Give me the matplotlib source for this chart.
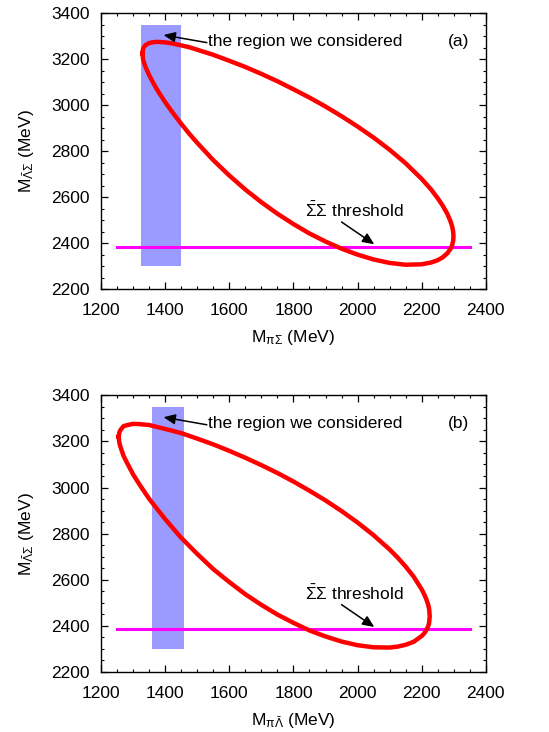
import numpy as np
import matplotlib.pyplot as plt
from matplotlib.patches import Rectangle
from matplotlib.ticker import MultipleLocator

plt.rcParams['font.family'] = ['Liberation Sans', 'DejaVu Sans']
plt.rcParams['mathtext.fontset'] = 'custom'
plt.rcParams['mathtext.rm'] = 'Liberation Sans'
plt.rcParams['mathtext.it'] = 'Liberation Sans'
plt.rcParams['mathtext.bf'] = 'Liberation Sans:bold'

# Dalitz boundary, panel (a): M(pi Sigma) vs M(Lambdabar Sigma), MeV
a_x = [1329, 1331, 1333, 1335, 1340, 1350, 1360, 1370, 1380, 1400, 1420, 1450,
       1475, 1500, 1550, 1600, 1650, 1700, 1750, 1800, 1850, 1900, 1950, 2000,
       2050, 2100, 2150, 2200, 2230, 2250, 2265, 2280, 2290, 2295, 2298, 2299,
       2298, 2295, 2290, 2280, 2265, 2250, 2230, 2200, 2150, 2100, 2050, 2000,
       1950, 1900, 1850, 1800, 1750, 1700, 1650, 1600, 1550, 1500, 1475, 1450,
       1420, 1400, 1380, 1370, 1360, 1350, 1340, 1335, 1333, 1331, 1329]
a_y = [3225, 3244, 3250, 3255, 3262, 3270, 3273, 3275, 3275, 3273, 3269, 3260,
       3252, 3241, 3219, 3193, 3166, 3136, 3104, 3069, 3033, 2994, 2952, 2907,
       2859, 2806, 2747, 2679, 2632, 2595, 2564, 2527, 2494, 2472, 2450, 2429,
       2410, 2392, 2376, 2356, 2338, 2326, 2316, 2308, 2306, 2314, 2329, 2350,
       2376, 2407, 2442, 2483, 2528, 2578, 2633, 2694, 2761, 2836, 2876, 2919,
       2974, 3013, 3056, 3079, 3104, 3131, 3162, 3181, 3190, 3201, 3225]

# panel (b): M(pi Lambdabar) vs M(Lambdabar Sigma), MeV
b_x = [1255, 1257, 1260, 1270, 1280, 1300, 1320, 1350, 1400, 1450, 1500, 1550,
       1600, 1650, 1700, 1750, 1800, 1850, 1900, 1950, 2000, 2050, 2100, 2125,
       2150, 2175, 2200, 2208, 2215, 2220, 2223, 2225,
       2223, 2220, 2215, 2208, 2200, 2175, 2150, 2125, 2100, 2050, 2000, 1950,
       1900, 1850, 1800, 1750, 1700, 1650, 1600, 1550, 1500, 1450, 1400, 1350,
       1320, 1300, 1280, 1270, 1260, 1257, 1255]
b_y = [3220, 3238, 3248, 3266, 3270, 3276, 3275, 3271, 3254, 3236, 3212, 3187,
       3159, 3129, 3097, 3063, 3026, 2986, 2944, 2898, 2848, 2793, 2731, 2696,
       2657, 2613, 2558, 2536, 2513, 2492, 2474, 2442,
       2412, 2398, 2383, 2368, 2356, 2331, 2318, 2310, 2306, 2307, 2316, 2332,
       2354, 2380, 2413, 2449, 2491, 2537, 2590, 2646, 2712, 2782, 2863, 2951,
       3013, 3057, 3110, 3138, 3179, 3196, 3220]

threshold = 2385          # 2 m_Sigma
thr_range = [1250, 2350]
band_a = [1325, 1450]     # region considered, panel (a)
band_b = [1360, 1460]     # region considered, panel (b)
band_y = [2300, 3350]

panels = [
    (a_x, a_y, band_a, r'M$_{\pi\Sigma}$ (MeV)', '(a)', [0.184, 0.605, 0.701, 0.377]),
    (b_x, b_y, band_b, r'M$_{\pi\bar{\Lambda}}$ (MeV)', '(b)', [0.184, 0.082, 0.701, 0.378]),
]

arrow_kw = dict(arrowstyle='-|>,head_length=0.5,head_width=0.22', color='black',
                lw=1.1, mutation_scale=14, shrinkA=0, shrinkB=0)

fig = plt.figure(figsize=(5.49, 7.32), dpi=100)

for bx, by, band, xlab, tag, pos in panels:
    ax = fig.add_axes(pos)
    ax.add_patch(Rectangle((band[0], band_y[0]), band[1] - band[0],
                           band_y[1] - band_y[0], color='#9b9bff', lw=0, zorder=1))
    ax.plot(thr_range, [threshold, threshold], color='#ff00ff', lw=2.2, zorder=2)
    ax.plot(bx, by, color='#ff0000', lw=3.2, solid_joinstyle='round', zorder=3)

    ax.annotate('', xy=(1395, 3305), xytext=(1530, 3272), arrowprops=arrow_kw)
    ax.text(1535, 3277, 'the region we considered', fontsize=12.5, va='center', ha='left')
    ax.annotate('', xy=(2052, 2395), xytext=(1950, 2492), arrowprops=arrow_kw)
    ax.text(1835, 2542, r'$\bar{\Sigma}\Sigma$ threshold', fontsize=12.5, va='center', ha='left')
    ax.text(2316, 3277, tag, fontsize=12.5, va='center', ha='center')

    ax.set_xlim(1200, 2400)
    ax.set_ylim(2200, 3400)
    ax.xaxis.set_major_locator(MultipleLocator(200))
    ax.xaxis.set_minor_locator(MultipleLocator(50))
    ax.yaxis.set_major_locator(MultipleLocator(200))
    ax.yaxis.set_minor_locator(MultipleLocator(50))
    ax.tick_params(which='both', direction='in', top=True, right=True, labelsize=12.5)
    ax.tick_params(which='major', length=5, width=0.9)
    ax.tick_params(which='minor', length=2.5, width=0.8)
    ax.tick_params(axis='x', which='major', pad=10)
    ax.tick_params(axis='y', which='major', pad=8)
    for s in ax.spines.values():
        s.set_linewidth(1.0)
    ax.set_xlabel(xlab, fontsize=12.5, labelpad=7)
    ax.set_ylabel(r'M$_{\bar{\Lambda}\Sigma}$ (MeV)', fontsize=12.5, labelpad=11)

fig.savefig('out.png', dpi=100)
